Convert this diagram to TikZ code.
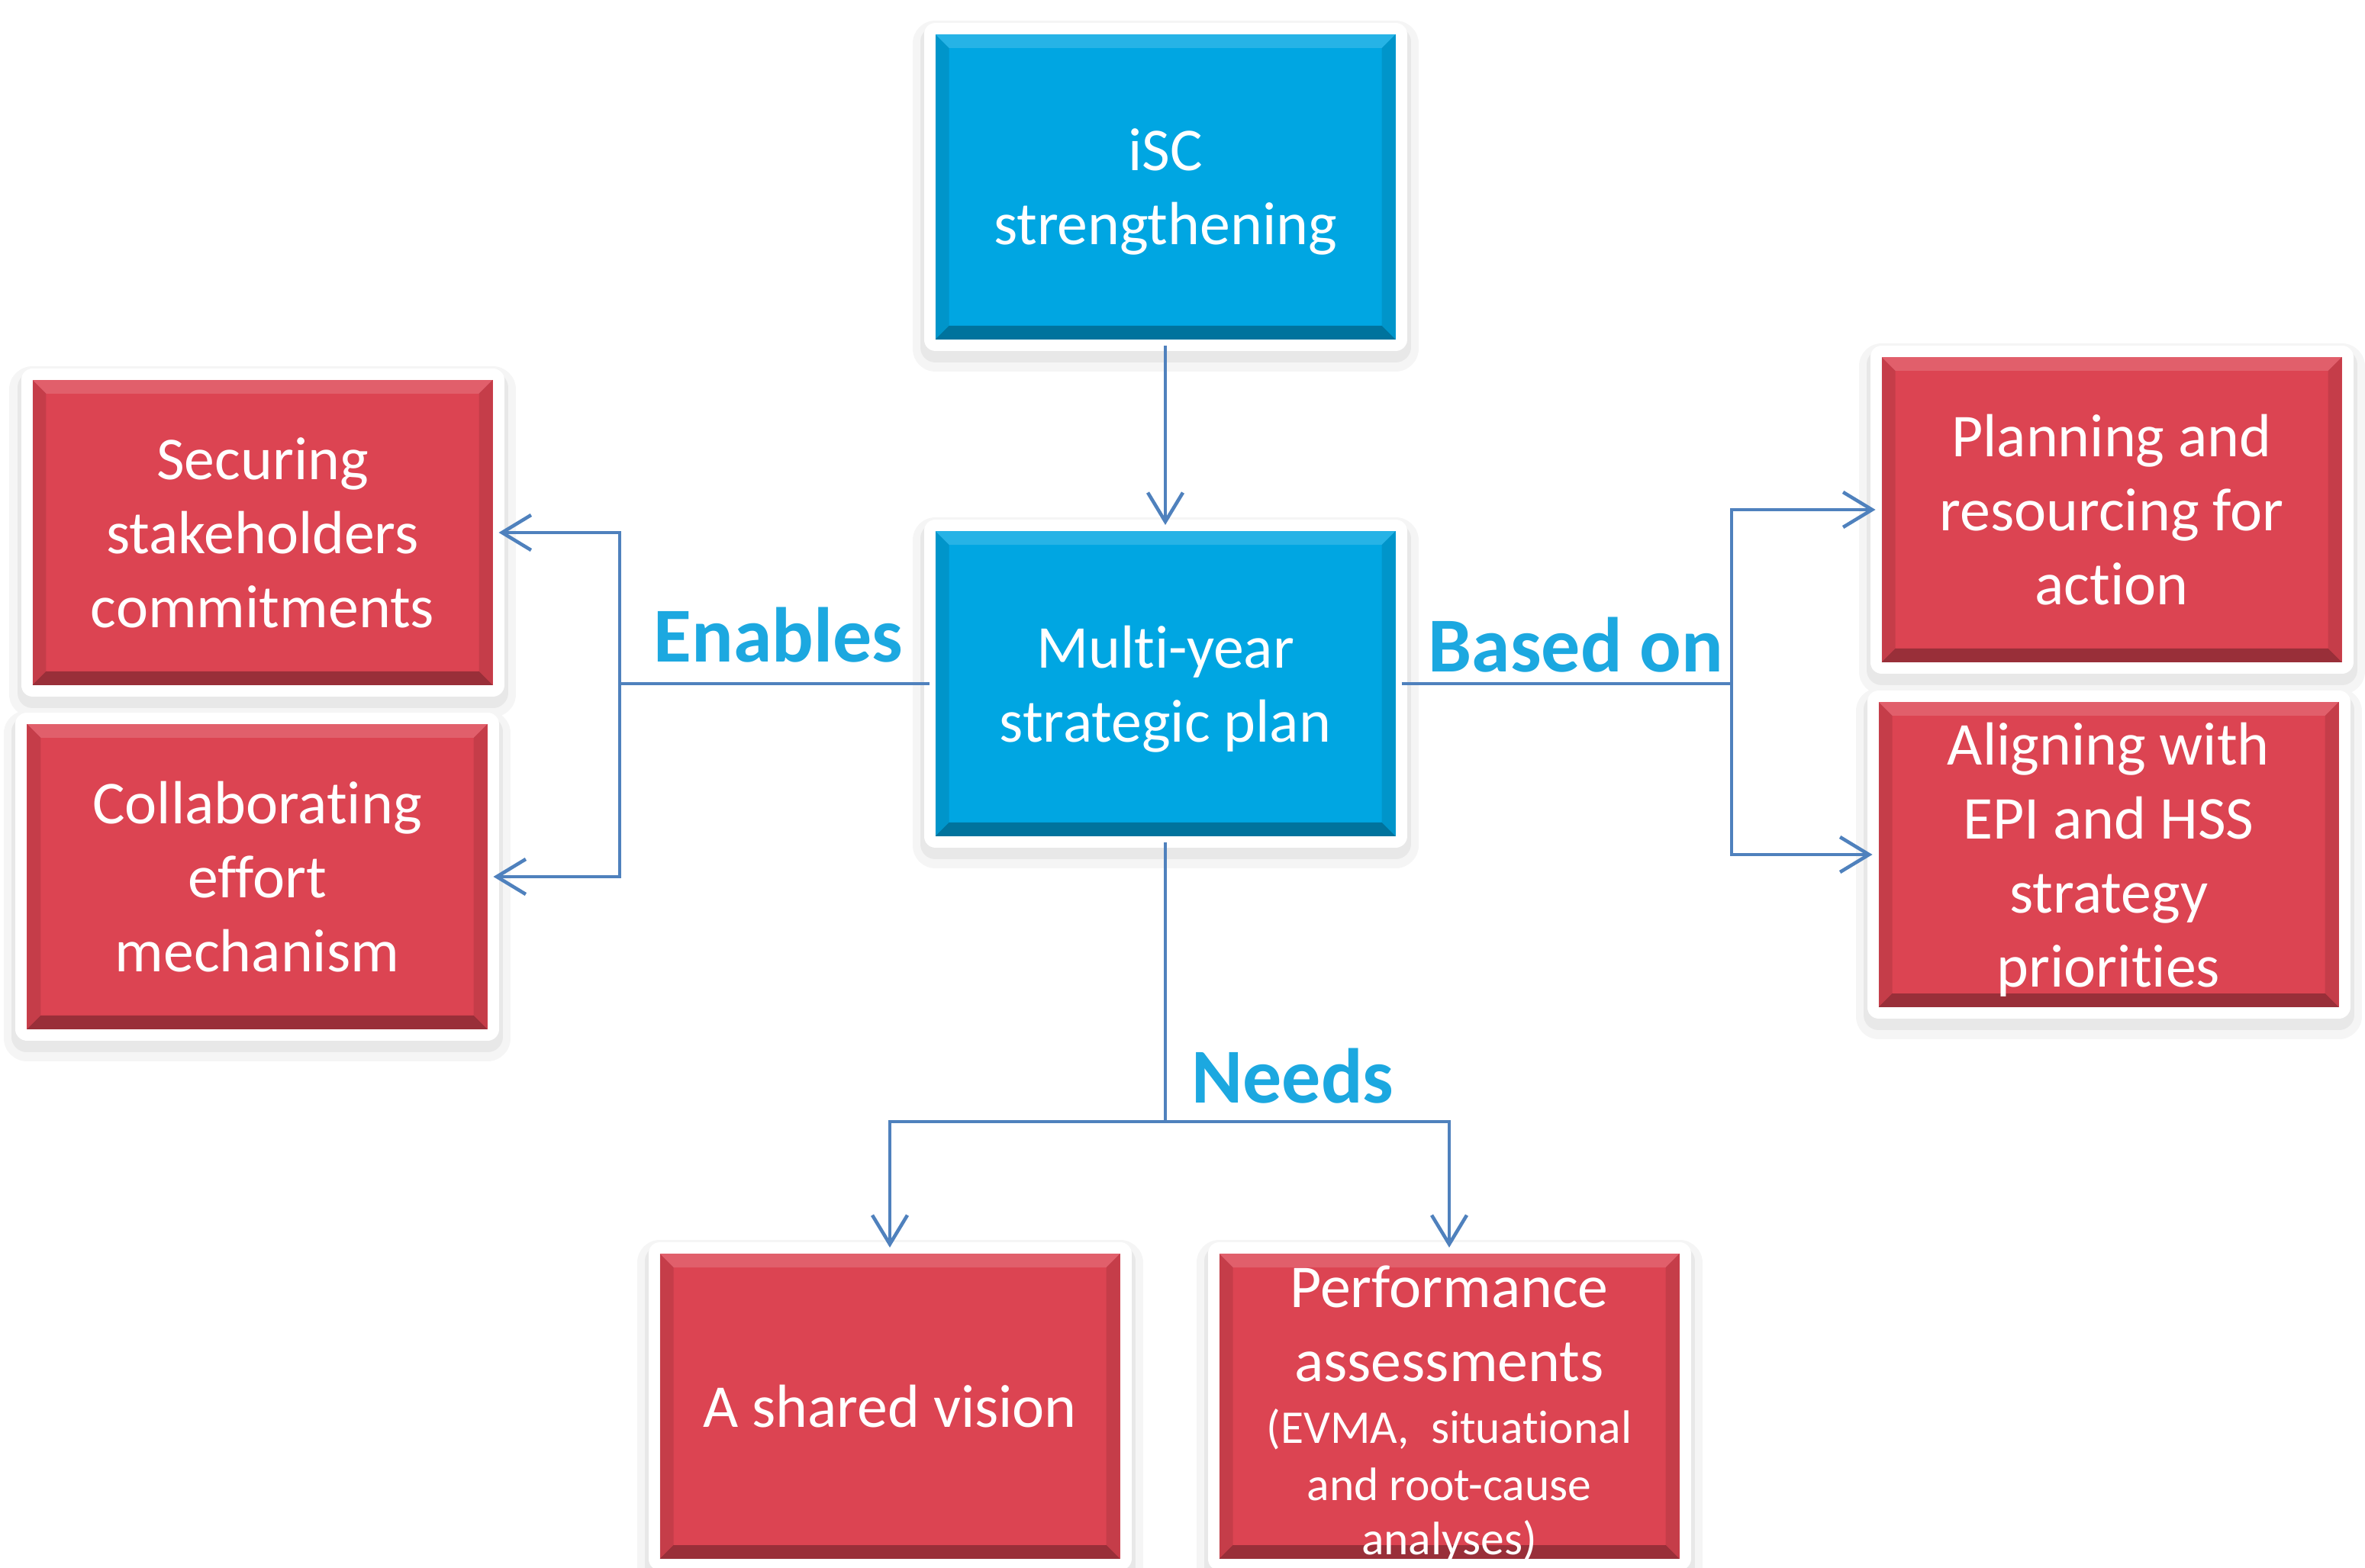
\documentclass[tikz,border=0pt]{standalone}
\usepackage{fontspec}
\setmainfont{Carlito}[Ligatures=NoCommon]
\usetikzlibrary{arrows.meta}
\definecolor{boxblue}{HTML}{00A6E2}
\definecolor{boxred}{HTML}{DC4452}
\definecolor{linkblue}{HTML}{4F81BD}
\definecolor{wordblue}{HTML}{1CA8E0}
\newcommand{\bigtext}{\fontsize{22.7}{27.6}\selectfont}
\newcommand{\smalltext}{\fontsize{17.5}{21.3}\selectfont}

\begin{document}
\begin{tikzpicture}[
    box/.style={minimum width=6.03cm, minimum height=4cm, inner sep=0pt, outer sep=0.08cm,
        align=center, text=white, font=\bigtext, text depth=0pt,
        preaction={draw=black!4, line width=0.6cm, line join=round, transform canvas={yshift=-0.12cm}},
        preaction={draw=black!9, line width=0.4cm, line join=round, transform canvas={yshift=-0.1cm}},
        preaction={draw=white, line width=0.3cm, line join=round},
        path picture={
            \fill[white, opacity=.15] (path picture bounding box.north west) -- (path picture bounding box.north east)
                -- ++(-.18,-.18) -- ([shift={(.18,-.18)}]path picture bounding box.north west) -- cycle;
            \fill[black, opacity=.3] (path picture bounding box.south west) -- (path picture bounding box.south east)
                -- ++(-.18,.18) -- ([shift={(.18,.18)}]path picture bounding box.south west) -- cycle;
            \fill[black, opacity=.1] (path picture bounding box.south west) -- (path picture bounding box.north west)
                -- ++(.18,-.18) -- ([shift={(.18,.18)}]path picture bounding box.south west) -- cycle;
            \fill[black, opacity=.1] (path picture bounding box.south east) -- (path picture bounding box.north east)
                -- ++(-.18,-.18) -- ([shift={(-.18,.18)}]path picture bounding box.south east) -- cycle;
        }},
    bluebox/.style={box, fill=boxblue},
    redbox/.style={box, fill=boxred},
    link/.style={draw=linkblue, line width=1.3pt},
    linkto/.style={-{Straight Barb[length=0.38cm, width=0.46cm]}},
    word/.style={text=wordblue, font=\fontsize{29}{35}\selectfont\bfseries, anchor=base}
]
    \useasboundingbox (0,0) rectangle (30.99,20.54);

    %% middle column
    \node[bluebox] (isc) at (15.27,18.09) {iSC\\strengthening};
    \node[bluebox] (msp) at (15.27,11.58) {Multi-year\\strategic plan};

    %% left side
    \node[redbox] (secure) at (3.44,13.56) {Securing\\stakeholders\\commitments};
    \node[redbox] (collab) at (3.37,9.05) {Collaborating\\effort\\mechanism};

    %% right side
    \node[redbox] (planning) at (27.67,13.86) {Planning and\\resourcing for\\action};
    \node[redbox] (aligning) at (27.63,9.34) {Aligning with\\EPI and HSS\\strategy\\priorities};

    %% bottom row
    \node[redbox] (vision) at (11.66,2.11) {A shared vision};
    \node[redbox, label={[name=performtext, align=center, text=white, font=\smalltext, yshift=-0.1cm]center:
        \bigtext Performance\\[6.3pt] \bigtext assessments\\[1.7pt] (EVMA,~ situational\\ and root-cause\\[-1pt] analyses)}]
        (perform) at (18.99,2.11) {};

    % junctions
    \coordinate (enables) at (8.12,11.58);
    \coordinate (basedon) at (22.69,11.58);
    \coordinate (needs) at (15.27,5.84);

    \draw[link, linkto] (isc) -- (msp);
    \draw[link] (msp) -- (enables);
    \draw[link, linkto] (enables) |- (secure);
    \draw[link, linkto] (enables) |- (collab);
    \draw[link] (msp) -- (basedon);
    \draw[link, linkto] (basedon) |- (planning);
    \draw[link, linkto] (basedon) |- (aligning);
    \draw[link] (msp) -- (needs);
    \draw[link, linkto] (needs) -| (vision);
    \draw[link, linkto] (needs) -| (perform);

    % connector words
    \node[word] (enablesword) at (10.20,11.86) {Enables};
    \node[word] (basedonword) at (20.65,11.73) {Based on};
    \node[word] (needsword) at (16.94,6.09) {Needs};
\end{tikzpicture}
\end{document}
